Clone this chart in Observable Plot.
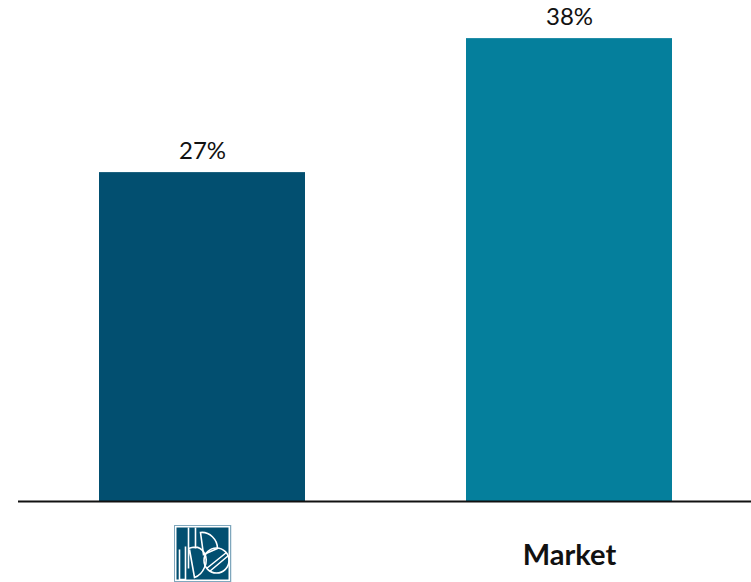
<!DOCTYPE html>
<html>
<head>
<meta charset="utf-8">
<script src="https://cdn.jsdelivr.net/npm/d3@7"></script>
<script src="https://cdn.jsdelivr.net/npm/@observablehq/plot@0.6"></script>
<style>
  html, body { margin: 0; padding: 0; background: #fff; }
  svg { display: block; }
</style>
</head>
<body>
<div id="chart"></div>
<script>
// Share of respondents for the firm and for the wider market
const groups = ["Firm", "Market"];
const shares = [27, 38];
const barColors = ["#024f70", "#057f9c"];
const groupLabels = ["", "Market"];

const rows = groups.map((group, i) => ({group, share: shares[i], color: barColors[i], label: groupLabels[i]}));

// Firm emblem, used in place of a text label on the first category
const emblem = `<svg xmlns="http://www.w3.org/2000/svg" viewBox="0 0 58 58">
  <rect width="58" height="58" fill="#7fa7bd"/>
  <rect x="1.5" y="1.5" width="55" height="55" fill="#fff"/>
  <rect x="3" y="3" width="52" height="52" fill="#024f70"/>
  <g fill="none" stroke="#fff" stroke-width="1.6">
    <path d="M6 25V55H12V22"/>
    <path d="M15 3V44M22 3V24M15 24C30 18 36 34 31 43C28 50 24 52 21 53L16 25"/>
    <path d="M27 8C36 7 44 15 44 24L30 30Z"/>
    <circle cx="43" cy="36" r="12.5"/>
    <path d="M33 44L53 28M36 47L55 31"/>
  </g>
</svg>`;
const emblemUrl = "data:image/svg+xml;base64," + btoa(emblem);

const chart = Plot.plot({
  width: 751,
  height: 582,
  marginTop: 0,
  marginRight: 0,
  marginBottom: 81,
  marginLeft: 18,
  style: {background: "#fff"},
  x: {domain: groups, range: [18, 752], paddingInner: 0.44, paddingOuter: 0.22, axis: null},
  y: {domain: [0, 41.13], axis: null},
  marks: [
    Plot.barY(rows, {x: "group", y: "share", fill: "color"}),
    Plot.ruleY([0], {stroke: "#111", strokeWidth: 2}),
    Plot.text(rows, {
      x: "group", y: "share", text: d => `${d.share}%`,
      dy: -21, fontFamily: "Lato", fontSize: 24, fill: "#111"
    }),
    Plot.text(rows, {
      x: "group", y: 0, text: "label", dy: 54,
      fontFamily: "Lato", fontSize: 29, fontWeight: 700, fill: "#111"
    }),
    Plot.image(rows.slice(0, 1), {
      x: "group", y: 0, dy: 52, width: 58, height: 58, src: () => emblemUrl
    })
  ]
});

document.getElementById("chart").append(chart);
</script>
</body>
</html>
